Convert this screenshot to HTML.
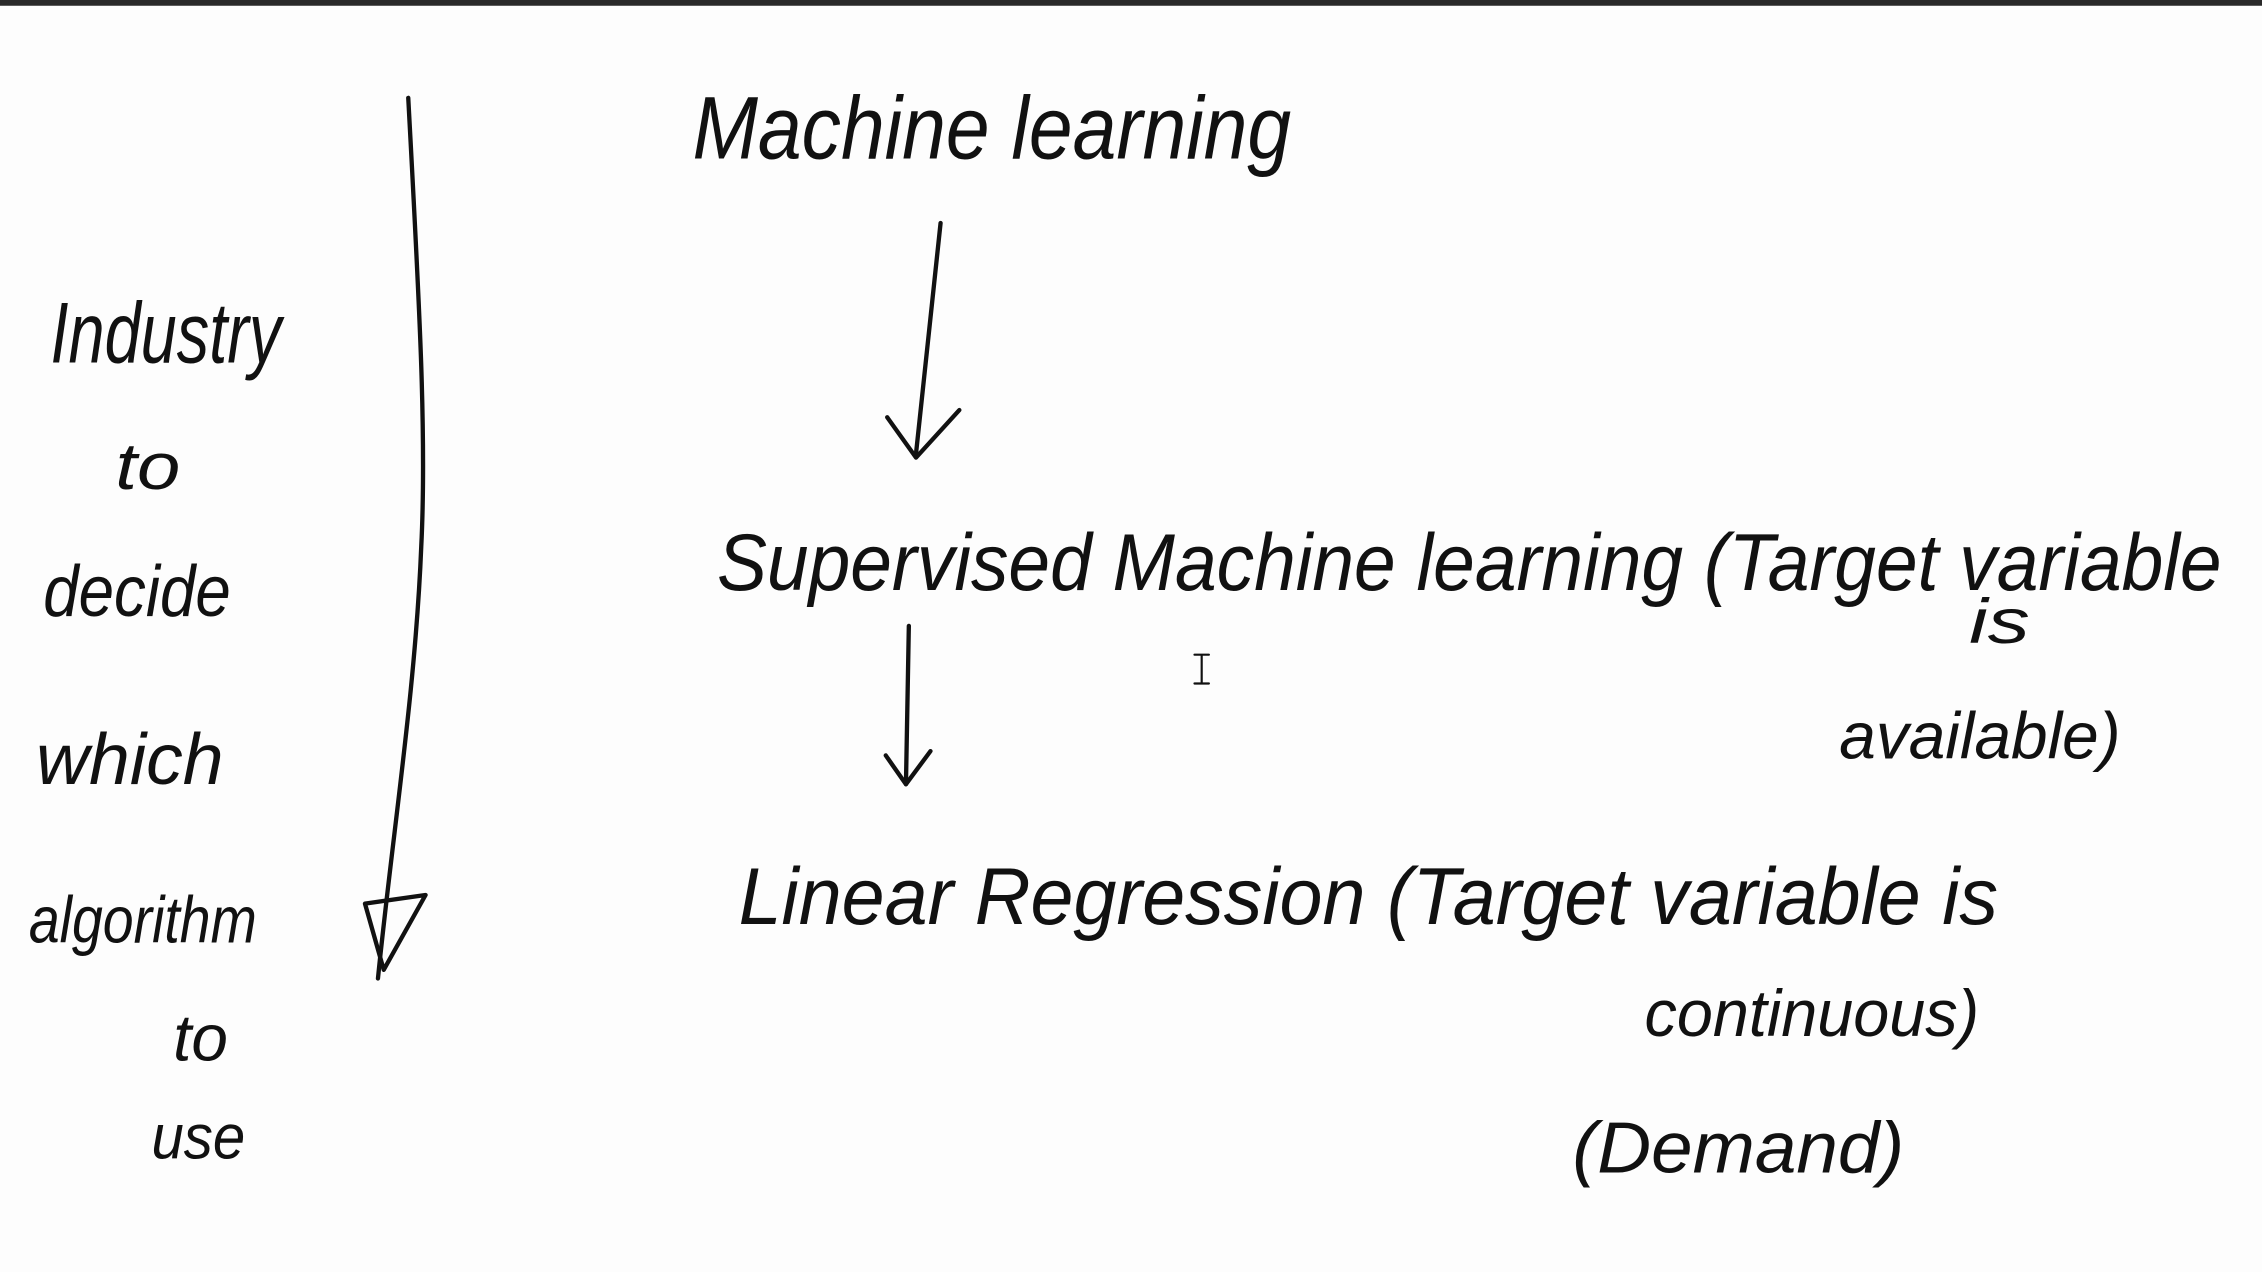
<!DOCTYPE html>
<html><head><meta charset="utf-8"><style>
html,body{margin:0;padding:0;background:#fdfdfd;}
svg{display:block;}
text{font-family:"Liberation Sans",sans-serif;fill:#111;}
</style></head><body>
<svg width="2262" height="1272" viewBox="0 0 1568 884" preserveAspectRatio="none" xmlns="http://www.w3.org/2000/svg">
<rect x="0" y="0" width="1568" height="884" fill="#fdfdfd"/>
<rect x="0" y="0" width="1568" height="4" fill="#2a2a2a"/>
<g fill="none" stroke="#111" stroke-width="3" stroke-linecap="round" stroke-linejoin="round">
<!-- long left arrow -->
<path d="M283 68 C290 200 296 300 292 380 C288 480 272 580 262 680"/>
<path d="M253 628 L266 674 L295 622 Z"/>
<!-- ML arrow -->
<path d="M652 155 L635 315"/>
<path d="M615 290 L635 318 L665 285"/>
<!-- SML arrow -->
<path d="M630 435 L628 545"/>
<path d="M614 525 L628 545 L645 522"/>
<!-- cursor -->
<path d="M828 455 L838 455 M833 455 L833 475 M828 475 L838 475" stroke-width="1.5"/>
</g>
<g font-style="italic">
<text x="480" y="110" font-size="62" textLength="415" lengthAdjust="spacingAndGlyphs">Machine learning</text>
<text x="497" y="410" font-size="56" textLength="1043" lengthAdjust="spacingAndGlyphs">Supervised Machine learning (Target variable</text>
<text x="1365" y="447" font-size="44" textLength="42" lengthAdjust="spacingAndGlyphs">is</text>
<text x="1275" y="527" font-size="46" textLength="195" lengthAdjust="spacingAndGlyphs">available)</text>
<text x="512" y="642" font-size="56" textLength="873" lengthAdjust="spacingAndGlyphs">Linear Regression  (Target variable is</text>
<text x="1140" y="720" font-size="46" textLength="232" lengthAdjust="spacingAndGlyphs">continuous)</text>
<text x="1090" y="815" font-size="50" textLength="230" lengthAdjust="spacingAndGlyphs">(Demand)</text>
<text x="35" y="252" font-size="60" textLength="160" lengthAdjust="spacingAndGlyphs">Industry</text>
<text x="80" y="340" font-size="46" textLength="45" lengthAdjust="spacingAndGlyphs">to</text>
<text x="30" y="428" font-size="50" textLength="130" lengthAdjust="spacingAndGlyphs">decide</text>
<text x="25" y="545" font-size="50" textLength="130" lengthAdjust="spacingAndGlyphs">which</text>
<text x="20" y="655" font-size="46" textLength="158" lengthAdjust="spacingAndGlyphs">algorithm</text>
<text x="120" y="737" font-size="46" textLength="38" lengthAdjust="spacingAndGlyphs">to</text>
<text x="105" y="805" font-size="44" textLength="65" lengthAdjust="spacingAndGlyphs">use</text>
</g>
</svg>
</body></html>
